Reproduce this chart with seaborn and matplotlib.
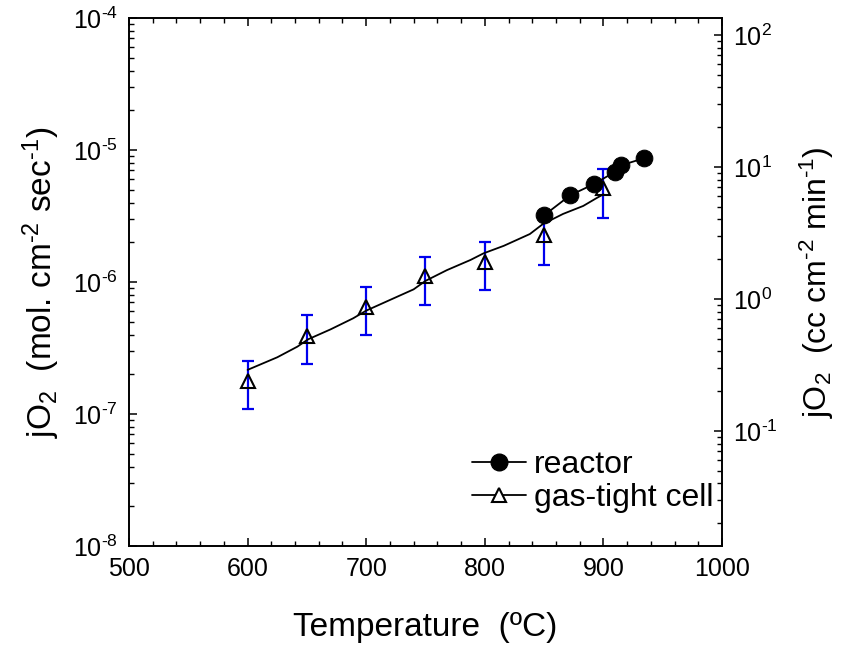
import numpy as np
import pandas as pd
import matplotlib
matplotlib.use("Agg")
import matplotlib.pyplot as plt
from matplotlib.lines import Line2D
from matplotlib.ticker import LogLocator, MultipleLocator, NullFormatter, FuncFormatter
import seaborn as sns

# gas-tight cell measurements (triangles) with error bar limits
cell_T = [600, 650, 700, 750, 800, 850, 900]
cell_j = [1.79e-7, 3.90e-7, 6.43e-7, 1.11e-6, 1.42e-6, 2.26e-6, 5.13e-6]
cell_lo = [1.09e-7, 2.41e-7, 3.95e-7, 6.66e-7, 8.70e-7, 1.35e-6, 3.05e-6]
cell_hi = [2.53e-7, 5.62e-7, 9.20e-7, 1.56e-6, 2.02e-6, 3.17e-6, 7.14e-6]

# fitted curve through the gas-tight cell data
fit_T = [600, 625, 642, 651, 670, 689, 700, 720, 740, 750, 768, 788, 799, 816, 838, 849, 866, 883, 894, 900]
fit_j = [2.16e-7, 2.69e-7, 3.24e-7, 3.68e-7, 4.38e-7, 5.31e-7, 6.07e-7, 7.31e-7, 8.80e-7, 1.02e-6,
         1.23e-6, 1.47e-6, 1.65e-6, 1.88e-6, 2.31e-6, 2.75e-6, 3.28e-6, 3.77e-6, 4.31e-6, 4.62e-6]

# reactor measurements (filled circles)
reactor_T = [850, 872, 892, 910, 915, 934]
reactor_j = [3.20e-6, 4.54e-6, 5.52e-6, 6.85e-6, 7.66e-6, 8.65e-6]

# mol cm-2 s-1 -> cc cm-2 min-1 (22400 cc/mol * 60 s/min)
CONV = 22400 * 60

sns.set_theme(style="ticks")
plt.rcParams["font.family"] = ["Liberation Sans", "DejaVu Sans"]
plt.rcParams["mathtext.default"] = "regular"
for k in ["text.color", "axes.labelcolor", "xtick.color", "ytick.color", "axes.edgecolor"]:
    plt.rcParams[k] = "black"

HY = "\u2010"  # plain hyphen instead of a minus sign in exponents


def pow10(v, pos):
    e = int(round(np.log10(v)))
    s = str(e).replace("-", HY)
    return "10$^{" + s + "}$"


fig, ax = plt.subplots(figsize=(8.46, 6.6), dpi=100)
fig.subplots_adjust(left=0.1525, right=0.8534, top=0.9727, bottom=0.1727)

cell_err = [np.array(cell_j) - np.array(cell_lo), np.array(cell_hi) - np.array(cell_j)]
ax.errorbar(cell_T, cell_j, yerr=cell_err, fmt="none", ecolor="#0000ee",
            elinewidth=1.6, capsize=4.5, capthick=1.6, zorder=2)

sns.lineplot(x=fit_T, y=fit_j, ax=ax, color="black", linewidth=1.3, zorder=3)
sns.lineplot(x=reactor_T, y=reactor_j, ax=ax, color="black", linewidth=1.3,
             marker="o", markersize=12, markeredgecolor="black", zorder=4)
ax.plot(cell_T, cell_j, linestyle="none", marker="^", markersize=10,
        markerfacecolor="none", markeredgecolor="black", markeredgewidth=1.5, zorder=5)

ax.set_yscale("log")
ax.set_xlim(500, 1000)
ax.set_ylim(1e-8, 1e-4)
ax.xaxis.set_major_locator(MultipleLocator(100))
ax.xaxis.set_minor_locator(MultipleLocator(20))
ax.yaxis.set_major_locator(LogLocator(base=10, numticks=10))
ax.yaxis.set_minor_locator(LogLocator(base=10, subs=np.arange(2, 10), numticks=10))
ax.yaxis.set_major_formatter(FuncFormatter(pow10))
ax.yaxis.set_minor_formatter(NullFormatter())

ax.set_xlabel("Temperature  (ºC)", fontsize=24, labelpad=22)
ax.set_ylabel("jO$_2$  (mol. cm$^{" + HY + "2}$ sec$^{" + HY + "1}$)", fontsize=24, labelpad=8)

ax2 = ax.twinx()
ax2.set_yscale("log")
ax2.set_ylim(1e-8 * CONV, 1e-4 * CONV)
ax2.yaxis.set_major_locator(LogLocator(base=10, numticks=10))
ax2.yaxis.set_minor_locator(LogLocator(base=10, subs=np.arange(2, 10), numticks=10))
ax2.yaxis.set_major_formatter(FuncFormatter(pow10))
ax2.yaxis.set_minor_formatter(NullFormatter())
ax2.set_ylabel("jO$_2$  (cc cm$^{" + HY + "2}$ min$^{" + HY + "1}$)", fontsize=23, labelpad=14)

for a in (ax, ax2):
    for s in a.spines.values():
        s.set_linewidth(1.2)
        s.set_color("black")
ax.tick_params(which="major", direction="in", length=6, width=1.1, labelsize=18,
               top=True, right=False, colors="black", pad=8)
ax.tick_params(which="minor", direction="in", length=3.5, width=1.0, top=True, right=False)
ax2.tick_params(which="major", direction="in", length=6, width=1.1, labelsize=18,
                colors="black", pad=8)
ax2.tick_params(which="minor", direction="in", length=3.5, width=1.0)

handles = [
    Line2D([], [], color="black", lw=1.3, marker="o", markersize=12),
    Line2D([], [], color="black", lw=1.3, marker="^", markersize=10,
           markerfacecolor="white", markeredgewidth=1.5),
]
ax.legend(handles, ["reactor", "gas-tight cell"], loc="lower left",
          bbox_to_anchor=(0.578, 0.062), frameon=False, fontsize=23,
          handlelength=1.7, handletextpad=0.25, borderpad=0, borderaxespad=0,
          labelspacing=0.1, numpoints=1)

fig.savefig("out.png", dpi=100)
